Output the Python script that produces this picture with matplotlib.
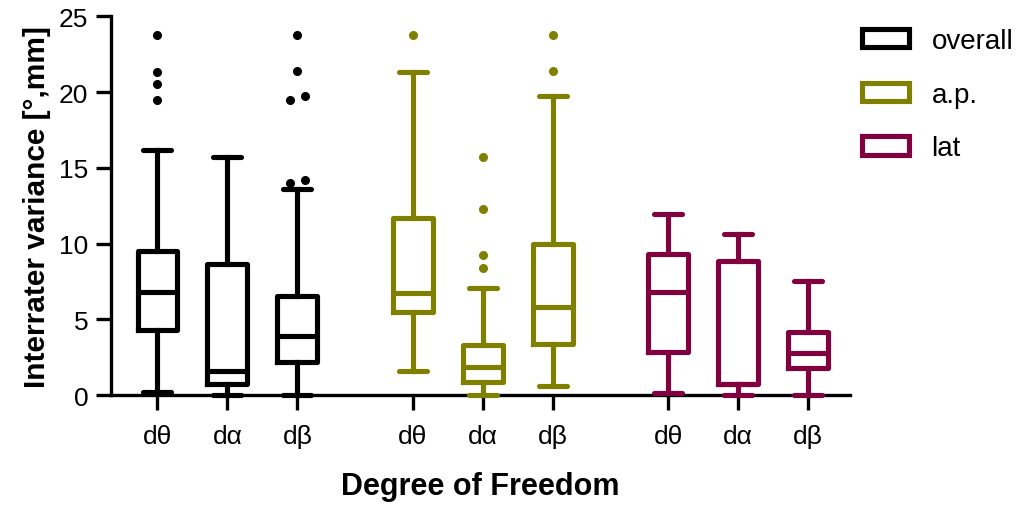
import matplotlib.pyplot as plt
from matplotlib.patches import Patch

plt.rcParams['font.family'] = ['Liberation Sans', 'DejaVu Sans']

# values (degrees / mm)
labels = ['dθ', 'dα', 'dβ'] * 3
groups = ['overall', 'a.p.', 'lat']
colors = ['black', '#808000', '#800040']

whislo = [0.18, 0.0, 0.0, 1.6, 0.0, 0.62, 0.15, 0.0, 0.0]
q1 = [4.31, 0.73, 2.16, 5.52, 0.88, 3.41, 2.88, 0.73, 1.78]
med = [6.82, 1.6, 3.91, 6.73, 1.83, 5.85, 6.84, 0.73, 2.77]
q3 = [9.48, 8.64, 6.55, 11.72, 3.3, 9.96, 9.3, 8.86, 4.2]
whishi = [16.18, 15.68, 13.59, 21.33, 7.1, 19.75, 11.98, 10.66, 7.5]
fliers = [
    [23.77, 21.35, 20.5, 19.5],
    [],
    [23.77, 21.4, 19.5, 19.75, 13.98, 14.2],
    [23.77],
    [15.68, 12.31, 9.28, 8.4],
    [23.77, 21.4],
    [],
    [],
    [],
]
# small sideways offsets of paired outliers in dβ overall
flier_dx = [None, None, [0, 0, -0.11, 0.11, -0.11, 0.11], None, None, None, None, None, None]

positions = [0, 1, 2, 3.65, 4.65, 5.65, 7.3, 8.3, 9.3]

fig = plt.figure(figsize=(10.24, 5.06), dpi=100)
ax = fig.add_axes([0.108, 0.217, 0.722, 0.749])

lw = 3.7
for i in range(9):
    c = colors[i // 3]
    st = dict(whislo=whislo[i], q1=q1[i], med=med[i], q3=q3[i],
              whishi=whishi[i], fliers=[])
    art = ax.bxp([st], positions=[positions[i]], widths=0.57, capwidths=0.4,
                 showfliers=False, patch_artist=False,
                 boxprops=dict(color=c, linewidth=lw),
                 medianprops=dict(color=c, linewidth=lw),
                 whiskerprops=dict(color=c, linewidth=lw),
                 capprops=dict(color=c, linewidth=lw, solid_capstyle='round'))
    for k in art.values():
        for a in k:
            a.set_clip_on(False)
            a.set_zorder(3)
    if fliers[i]:
        dx = flier_dx[i] or [0] * len(fliers[i])
        ax.plot([positions[i] + d for d in dx], fliers[i], 'o', color=c,
                markersize=5.5, clip_on=False, zorder=3)

ax.set_xlim(-0.67, 9.9)
ax.set_ylim(0, 25)
ax.set_yticks([0, 5, 10, 15, 20, 25])
ax.set_xticks(positions)
ax.set_xticklabels(labels)

for s in ['top', 'right']:
    ax.spines[s].set_visible(False)
for s in ['left', 'bottom']:
    ax.spines[s].set_linewidth(2.4)
ax.tick_params(axis='both', width=2.4, length=11, labelsize=19)
ax.tick_params(axis='x', pad=10)
ax.tick_params(axis='y', pad=5)

ax.set_ylabel('Interrater variance [°,mm]', fontsize=21.5, fontweight='bold', labelpad=6)
ax.set_xlabel('Degree of Freedom', fontsize=22, fontweight='bold', labelpad=16)

handles = [Patch(facecolor='white', edgecolor=c, linewidth=lw, label=g)
           for g, c in zip(groups, colors)]
fig.legend(handles=handles, loc='upper left', bbox_to_anchor=(0.831, 0.965),
           frameon=False, fontsize=20, handlelength=1.7, handleheight=0.65,
           labelspacing=1.0, handletextpad=0.8, borderaxespad=0)

fig.savefig('out.png', dpi=100)
